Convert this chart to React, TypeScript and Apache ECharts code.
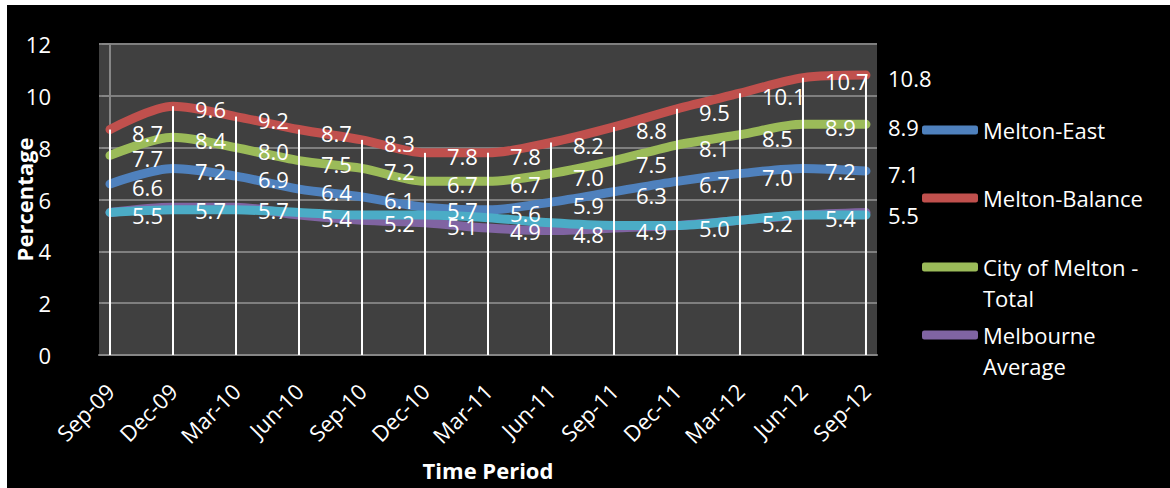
import React, { useEffect, useRef } from "react";
import * as echarts from "echarts";

const categories = ["Sep-09", "Dec-09", "Mar-10", "Jun-10", "Sep-10", "Dec-10", "Mar-11", "Jun-11", "Sep-11", "Dec-11", "Mar-12", "Jun-12", "Sep-12"];
const meltonEast = [6.6, 7.2, 6.9, 6.4, 6.1, 5.7, 5.6, 5.9, 6.3, 6.7, 7.0, 7.2, 7.1];
const meltonBalance = [8.7, 9.6, 9.2, 8.7, 8.3, 7.8, 7.8, 8.2, 8.8, 9.5, 10.1, 10.7, 10.8];
const cityTotal = [7.7, 8.4, 8.0, 7.5, 7.2, 6.7, 6.7, 7.0, 7.5, 8.1, 8.5, 8.9, 8.9];
const melbourneAverage = [5.5, 5.7, 5.7, 5.4, 5.2, 5.1, 4.9, 4.8, 4.9, 5.0, 5.2, 5.4, 5.5];
const series5 = [5.5, 5.6, 5.6, 5.5, 5.4, 5.4, 5.3, 5.1, 5.0, 5.0, 5.2, 5.4, 5.4];
const yMin = 0;
const yMax = 12;
const yStep = 2;

const FONT = "'Open Sans', 'Noto Sans', sans-serif";

const pairs = (arr: number[]) => arr.map((v, i) => [i, v]);

export default function App() {
  const ref = useRef<HTMLDivElement>(null);
  useEffect(() => {
    if (!ref.current) return;
    const chart = echarts.init(ref.current, null, { renderer: "svg" });
    const lineSeries = (name: string, data: number[], color: string, showLabel: boolean, z: number) => ({
      name,
      type: "line",
      data: pairs(data),
      smooth: 0.3,
      symbol: "circle",
      symbolSize: 0,
      showSymbol: true,
      z,
      lineStyle: { color, width: 9, cap: "round", join: "round" },
      itemStyle: { color },
      label: {
        show: showLabel,
        position: "right",
        distance: 22,
        offset: [0, 3],
        color: "#ffffff",
        fontSize: 22,
        fontFamily: FONT,
        formatter: (p: any) => Number(p.value[1]).toFixed(1),
      },
      emphasis: { disabled: true },
    });
    const legendBase = {
      orient: "vertical",
      left: 915,
      padding: 0,
      itemWidth: 56,
      itemHeight: 9,
      icon: "roundRect",
      textStyle: { color: "#ffffff", fontSize: 22, fontFamily: FONT, lineHeight: 31 },
      formatter: (name: string) =>
        name === "City of Melton - Total"
          ? " \nCity of Melton -\nTotal"
          : name === "Melbourne Average"
          ? " \nMelbourne\nAverage"
          : name,
    };
    chart.setOption({
      animation: false,
      backgroundColor: "#000000",
      textStyle: { fontFamily: FONT },
      grid: {
        left: 92,
        top: 39,
        right: 293,
        bottom: 133,
        show: true,
        backgroundColor: "#404040",
        borderWidth: 0,
        containLabel: false,
        outerBoundsMode: "none",
      },
      legend: [
        { ...legendBase, top: 109.5, data: ["Melton-East"] },
        { ...legendBase, top: 177.5, data: ["Melton-Balance"] },
        { ...legendBase, top: 215.5, data: ["City of Melton - Total"] },
        { ...legendBase, top: 283.5, data: ["Melbourne Average"] },
      ],
      xAxis: {
        type: "value",
        min: -0.175,
        max: categories.length - 1 + 0.175,
        name: "Time Period",
        nameLocation: "middle",
        nameGap: 104,
        nameMoveOverlap: false,
        nameTextStyle: { color: "#ffffff", fontWeight: "bold", fontSize: 22, fontFamily: FONT },
        axisLine: { show: true, lineStyle: { color: "#868686", width: 2 } },
        axisTick: { show: false },
        splitLine: { show: false },
        axisLabel: {
          customValues: categories.map((_, i) => i),
          formatter: (v: number) => categories[Math.round(v)] ?? "",
          rotate: 45,
          margin: 32,
          color: "#ffffff",
          fontSize: 22,
          fontFamily: FONT,
        },
      },
      yAxis: {
        type: "value",
        min: yMin,
        max: yMax,
        interval: yStep,
        name: "Percentage",
        nameLocation: "middle",
        nameGap: 64,
        nameMoveOverlap: false,
        nameTextStyle: { color: "#ffffff", fontWeight: "bold", fontSize: 22, fontFamily: FONT },
        axisLine: { show: true, lineStyle: { color: "#868686", width: 2 } },
        axisTick: { show: true, length: 8, lineStyle: { color: "#868686", width: 2 } },
        splitLine: { show: true, lineStyle: { color: "#7f7f7f", width: 2 } },
        axisLabel: { color: "#ffffff", fontSize: 22, fontFamily: FONT, margin: 48 },
      },
      series: [
        lineSeries("Melton-East", meltonEast, "#4F81BD", true, 2),
        lineSeries("Melton-Balance", meltonBalance, "#C0504D", true, 2),
        lineSeries("City of Melton - Total", cityTotal, "#9BBB59", true, 2),
        lineSeries("Melbourne Average", melbourneAverage, "#8064A2", true, 2),
        lineSeries("Series 5", series5, "#4BACC6", false, 2),
        {
          name: "Drop lines",
          type: "bar",
          data: pairs(meltonBalance),
          barWidth: 2,
          z: 3,
          itemStyle: { color: "#ffffff" },
          emphasis: { disabled: true },
          silent: true,
        },
      ],
    });
    return () => chart.dispose();
  }, []);
  return (
    <div
      ref={ref}
      style={{ position: "absolute", left: 7, top: 5, width: 1163, height: 483 }}
    />
  );
}
